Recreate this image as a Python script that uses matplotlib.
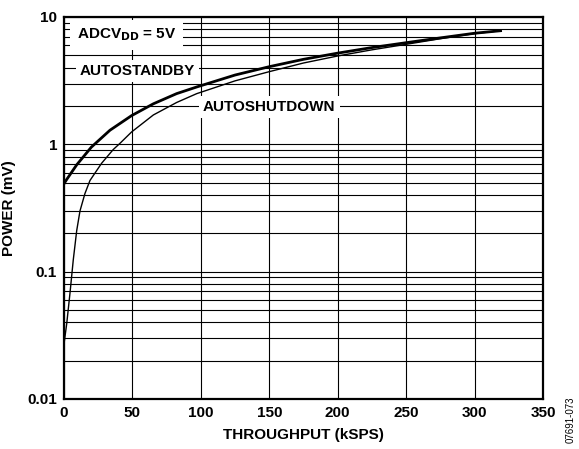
import numpy as np
import matplotlib
matplotlib.use("Agg")
import matplotlib.pyplot as plt
from matplotlib.ticker import FixedLocator, NullFormatter

plt.rcParams['font.family'] = ['Liberation Sans', 'DejaVu Sans']
plt.rcParams['font.weight'] = 'bold'

# data (throughput in kSPS, power as labelled)
standby_x = [0, 2, 9.3, 20, 33.6, 49.4, 65.3, 82.3, 97, 125, 150, 175, 200, 225, 250, 275, 300, 319]
standby_y = [0.49, 0.53, 0.69, 0.95, 1.29, 1.68, 2.08, 2.5, 2.82, 3.5, 4.07, 4.65, 5.2, 5.75, 6.28, 6.85, 7.45, 7.8]

shutdown_x = [0, 2, 4.4, 6.8, 9.3, 11.7, 15.3, 19, 27.5, 36, 41, 49.4, 65.3, 82.3, 97, 125, 150, 175, 200, 225, 250, 275, 300, 319]
shutdown_y = [0.027, 0.039, 0.068, 0.124, 0.21, 0.30, 0.41, 0.52, 0.71, 0.91, 1.02, 1.25, 1.7, 2.13, 2.5, 3.15, 3.72, 4.35, 4.94, 5.52, 6.1, 6.75, 7.4, 7.8]

x_ticks = [0, 50, 100, 150, 200, 250, 300, 350]
y_ticks = [0.01, 0.1, 1, 10]
y_ticklabels = ['0.01', '0.1', '1', '10']

fig = plt.figure(figsize=(5.79, 4.49), dpi=100)
ax = fig.add_axes([0.1105, 0.1114, 0.8273, 0.8508])

ax.plot(standby_x, standby_y, color='black', lw=2.0, zorder=3, solid_joinstyle='round')
ax.plot(shutdown_x, shutdown_y, color='black', lw=1.0, zorder=3, solid_joinstyle='round')

ax.set_yscale('log')
ax.set_xlim(0, 350)
ax.set_ylim(0.01, 10)
ax.set_xticks(x_ticks)
ax.set_xticklabels([str(t) for t in x_ticks])
ax.set_yticks(y_ticks)
ax.set_yticklabels(y_ticklabels)
minor = [m * d for d in [0.01, 0.1, 1] for m in range(2, 10)]
ax.yaxis.set_minor_locator(FixedLocator(minor))
ax.yaxis.set_minor_formatter(NullFormatter())
ax.tick_params(which='both', length=0, labelsize=11, pad=5)
for lab in ax.get_xticklabels() + ax.get_yticklabels():
    lab.set_fontweight('bold')

ax.grid(True, which='both', axis='y', color='black', lw=0.8)
ax.grid(True, which='major', axis='x', color='black', lw=0.8)
for s in ax.spines.values():
    s.set_linewidth(1.6)

ax.set_xlabel('THROUGHPUT (kSPS)', fontsize=11, fontweight='bold', labelpad=6)
ax.set_ylabel('POWER (mV)', fontsize=11, fontweight='bold', labelpad=8)

box = dict(facecolor='white', edgecolor='none', pad=3)
ax.text(0.027, 0.953, r'ADCV$_{\mathbf{DD}}$ = 5V', transform=ax.transAxes, fontsize=11,
        fontweight='bold', va='center', ha='left',
        bbox=dict(facecolor='white', edgecolor='none', pad=5), zorder=5)
ax.text(0.033, 0.859, 'AUTOSTANDBY', transform=ax.transAxes, fontsize=11,
        fontweight='bold', va='center', ha='left', bbox=box, zorder=5)
ax.text(0.29, 0.764, 'AUTOSHUTDOWN', transform=ax.transAxes, fontsize=11,
        fontweight='bold', va='center', ha='left', bbox=box, zorder=5)

# figure id along the right edge
fig.text(0.985, 0.065, '07691-073', rotation=90, fontsize=7,
         fontweight='normal', ha='center', va='center')

fig.savefig('out.png', dpi=100)
